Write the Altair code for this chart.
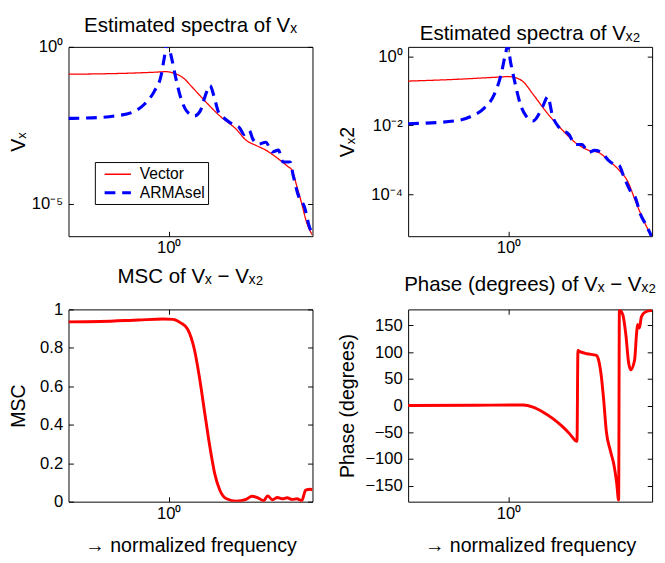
import altair as alt
import pandas as pd

FONT = "Liberation Sans"
F_DOMAIN = [0.45, 3.1416]
SERIES = ["Vector", "ARMAsel"]
COLORS = ["#ff0000", "#0000ff"]

# ---------- Estimated spectra of Vx (top-left) ----------
tl_vec_f = [0.450, 0.577, 0.729, 0.885, 0.979, 1.042, 1.126, 1.198, 1.326, 1.501, 1.713,
            1.852, 2.002, 2.164, 2.393, 2.587, 2.669, 2.775, 2.884, 2.999, 3.142]
tl_vec_v = [0.135, 0.138, 0.145, 0.155, 0.162, 0.145, 0.100, 0.0550, 0.0200, 0.00631, 0.00234,
            0.00105, 7.24e-4, 5.13e-4, 2.69e-4, 1.51e-4, 1.17e-4, 3.55e-5, 1.0e-5, 2.51e-6, 1.0e-6]
tl_arma_f = [0.450, 0.577, 0.653, 0.746, 0.825, 0.892, 0.942, 0.964, 0.990, 1.018, 1.058, 1.100,
             1.152, 1.227, 1.285, 1.336, 1.389, 1.433, 1.489, 1.548, 1.674, 1.754, 1.823, 1.896,
             1.956, 2.049, 2.164, 2.284, 2.393, 2.488, 2.628, 2.690, 2.797, 2.952, 3.069, 3.142]
tl_arma_v = [5.25e-3, 5.62e-3, 6.31e-3, 8.13e-3, 1.51e-2, 3.89e-2, 0.129, 0.427, 1.41, 0.537,
             0.100, 0.0240, 9.12e-3, 6.31e-3, 9.12e-3, 0.0269, 0.0589, 0.0269, 7.94e-3, 5.50e-3,
             3.31e-3, 2.69e-3, 1.62e-3, 2.19e-3, 1.12e-3, 7.94e-4, 9.12e-4, 4.47e-4, 5.13e-4,
             2.14e-4, 2.14e-4, 8.51e-5, 2.0e-5, 7.41e-6, 1.74e-6, 1.12e-6]

# ---------- Estimated spectra of Vx2 (top-right) ----------
tr_vec_f = [0.450, 0.653, 0.892, 1.002, 1.058, 1.126, 1.217, 1.389, 1.536, 1.700, 1.896,
            2.049, 2.214, 2.393, 2.587, 2.753, 2.907, 3.142]
tr_vec_v = [0.191, 0.214, 0.245, 0.257, 0.240, 0.182, 0.0794, 0.0186, 7.41e-3, 3.24e-3,
            1.91e-3, 1.66e-3, 1.0e-3, 5.50e-4, 2.40e-4, 6.46e-5, 2.14e-5, 6.0e-6]
tr_arma_f = [0.450, 0.653, 0.746, 0.825, 0.892, 0.942, 0.979, 0.994, 1.018, 1.058, 1.100,
             1.152, 1.217, 1.315, 1.367, 1.422, 1.501, 1.623, 1.700, 1.795, 1.896, 1.986,
             2.097, 2.214, 2.320, 2.412, 2.507, 2.648, 2.753, 2.861, 2.975, 3.093, 3.142]
tr_arma_v = [0.0112, 0.0135, 0.0186, 0.0316, 0.0759, 0.282, 1.26, 2.0, 0.661, 0.148, 0.0407,
             0.0186, 0.0135, 0.0355, 0.0676, 0.0186, 8.51e-3, 5.37e-3, 2.82e-3, 2.82e-3,
             1.66e-3, 1.91e-3, 1.66e-3, 1.0e-3, 7.59e-4, 7.08e-4, 3.31e-4, 1.23e-4, 7.94e-5,
             2.75e-5, 1.45e-5, 7.59e-6, 5.6e-6]

# ---------- MSC of Vx - Vx2 (bottom-left) ----------
msc_f = [0.450, 0.577, 0.787, 0.956, 1.034, 1.100, 1.161, 1.227, 1.285, 1.336, 1.389, 1.444,
         1.501, 1.585, 1.713, 1.852, 1.940, 2.033, 2.130, 2.197, 2.284, 2.375, 2.469, 2.567,
         2.669, 2.775, 2.884, 2.975, 3.093, 3.142]
msc_v = [0.935, 0.937, 0.945, 0.950, 0.948, 0.930, 0.898, 0.790, 0.620, 0.447, 0.280, 0.142,
         0.061, 0.015, 0.003, 0.012, 0.028, 0.020, 0.005, 0.030, 0.010, 0.022, 0.015, 0.020,
         0.012, 0.015, 0.005, 0.060, 0.065, 0.060]

# ---------- Phase (degrees) of Vx - Vx2 (bottom-right) ----------
ph_f = [0.450, 0.763, 1.126, 1.217, 1.315, 1.422, 1.536, 1.635, 1.700, 1.727, 1.740, 1.767,
        1.866, 2.017, 2.044, 2.097, 2.135, 2.181, 2.254, 2.325, 2.369, 2.406, 2.421, 2.488,
        2.547, 2.607, 2.648, 2.732, 2.775, 2.797, 2.839, 2.884, 2.975, 3.117, 3.142]
ph_v = [0, 0.5, 1, -3, -12, -24, -39, -54, -65, -67, 103, 101, 97, 94, 88, 54, 12, -48, -85,
        -115, -145, -177, 179, 170, 134, 79, 67, 85, 134, 152, 145, 166, 175, 178, 178]

# ---------- text ----------
titles = ["Estimated spectra of Vₓ", "Estimated spectra of Vₓ₂",
          "MSC of Vₓ − Vₓ₂", "Phase (degrees) of Vₓ − Vₓ₂"]
y_titles = ["Vₓ", "Vₓ2", "MSC", "Phase (degrees)"]
x_title = "→ normalized frequency"


def y_left(values, title, extent, tpad, label_expr=None, fmt=None):
    kw = dict(orient="left", values=values, tickSize=5, offset=-5, domain=False, grid=False,
              labelPadding=6, labelFontSize=17, labelFont=FONT, labelColor="black",
              labelFlush=False, tickColor="black", title=title, titleFont=FONT,
              titleFontSize=20, titleFontWeight="normal", titleColor="black",
              titlePadding=tpad, minExtent=extent, maxExtent=extent)
    if label_expr:
        kw["labelExpr"] = label_expr
    if fmt:
        kw["format"] = fmt
    return alt.Axis(**kw)


def x_bottom(title=None):
    kw = dict(orient="bottom", values=[1], labelExpr="'10⁰'", tickSize=5, offset=-5,
              domain=False, grid=False, labelPadding=4, labelFontSize=17, labelFont=FONT,
              labelColor="black", labelFlush=False, tickColor="black", titleFont=FONT,
              titleFontSize=20, titleFontWeight="normal", titleColor="black", titlePadding=15)
    kw["title"] = title if title else ""
    return alt.Axis(**kw)


def y_right(values):
    return alt.Axis(orient="right", values=values, labels=False, tickSize=5, offset=-5,
                    domain=False, grid=False, tickColor="black", title="",
                    minExtent=0, maxExtent=0)


def x_top():
    return alt.Axis(orient="top", values=[1], labels=False, tickSize=5, offset=-5,
                    domain=False, grid=False, tickColor="black", title="",
                    minExtent=0, maxExtent=0)


def ptitle(text, offset):
    return alt.TitleParams(text=text, font=FONT, fontSize=21, fontWeight="normal",
                           color="black", anchor="middle", frame="group",
                           baseline="top", offset=offset)


def spectra_panel(fv, vv, fa, va, ydomain, yvals, ylab, ytitle, title, legx, legy, height,
                  extent, tpad):
    df = pd.DataFrame({"f": fv + fa, "v": vv + va,
                       "series": [SERIES[0]] * len(fv) + [SERIES[1]] * len(fa)})
    leg = alt.Legend(title=None, orient="none", legendX=legx, legendY=legy,
                     fillColor="white", strokeColor="black", padding=3, cornerRadius=0,
                     labelFont=FONT, labelFontSize=16, labelColor="black",
                     symbolType="M-0.41,0L2.76,0", symbolSize=289, labelOffset=22,
                     rowPadding=0)
    xs = alt.Scale(type="log", domain=F_DOMAIN, nice=False)
    ys = alt.Scale(type="log", domain=ydomain, nice=False)
    lines = alt.Chart(df).mark_line(clip=True, interpolate="monotone").encode(
        x=alt.X("f:Q", scale=xs, axis=x_bottom()),
        y=alt.Y("v:Q", scale=ys, axis=y_left(yvals, ytitle, extent, tpad, label_expr=ylab)),
        color=alt.Color("series:N", scale=alt.Scale(domain=SERIES, range=COLORS), legend=leg),
        strokeDash=alt.StrokeDash("series:N", scale=alt.Scale(domain=SERIES,
                                  range=[[1, 0], [11, 7]]), legend=leg),
        strokeWidth=alt.StrokeWidth("series:N", scale=alt.Scale(domain=SERIES,
                                    range=[1.3, 3.2]), legend=leg),
        order=alt.Order("f:Q"),
    )
    frame = alt.Chart(df).mark_line(opacity=0).encode(
        x=alt.X("f:Q", axis=x_top()), y=alt.Y("v:Q", axis=y_right(yvals)))
    return alt.layer(lines, frame).resolve_axis(x="independent", y="independent").properties(
        width=250, height=height, title=ptitle(title, 2))


def single_panel(f, v, ydomain, yvals, ytitle, title, extent, tpad, fmt=None):
    df = pd.DataFrame({"f": f, "v": v})
    xs = alt.Scale(type="log", domain=F_DOMAIN, nice=False)
    ys = alt.Scale(domain=ydomain, nice=False, zero=False)
    line = alt.Chart(df).mark_line(clip=True, color="#ff0000", strokeWidth=3,
                                   interpolate="monotone").encode(
        x=alt.X("f:Q", scale=xs, axis=x_bottom(x_title)),
        y=alt.Y("v:Q", scale=ys, axis=y_left(yvals, ytitle, extent, tpad, fmt=fmt)),
        order=alt.Order("f:Q"),
    )
    frame = alt.Chart(df).mark_line(opacity=0).encode(
        x=alt.X("f:Q", axis=x_top()), y=alt.Y("v:Q", axis=y_right(yvals)))
    return alt.layer(line, frame).resolve_axis(x="independent", y="independent").properties(
        width=250, height=197, title=ptitle(title, 14))


tl = spectra_panel(tl_vec_f, tl_vec_v, tl_arma_f, tl_arma_v, [9.2e-7, 1.0], [1, 1e-5],
                   "datum.value >= 0.5 ? '10⁰' : '10⁻⁵'", y_titles[0], titles[0],
                   27, 118, 194, 39, 7)
tr = spectra_panel(tr_vec_f, tr_vec_v, tr_arma_f, tr_arma_v, [6.3e-6, 1.86], [1, 1e-2, 1e-4],
                   "datum.value >= 0.5 ? '10⁰' : (datum.value >= 0.005 ? '10⁻²' : '10⁻⁴')",
                   y_titles[1], titles[1], 24, 115, 194, 51, 6)
bl = single_panel(msc_f, msc_v, [0, 1], [0, 0.2, 0.4, 0.6, 0.8, 1], y_titles[2], titles[2],
                  39, 7, fmt="~g")
br = single_panel(ph_f, ph_v, [-180, 180], [-150, -100, -50, 0, 50, 100, 150], y_titles[3],
                  titles[3], 51, 6)

chart = alt.concat(tl, tr, bl, br, columns=2,
                   spacing=alt.RowColnumber(row=9, column=24)).properties(
    padding=0, align="each").configure_view(stroke="black", strokeWidth=1)

chart.save("out.html", embed_options={"renderer": "svg", "actions": False})
